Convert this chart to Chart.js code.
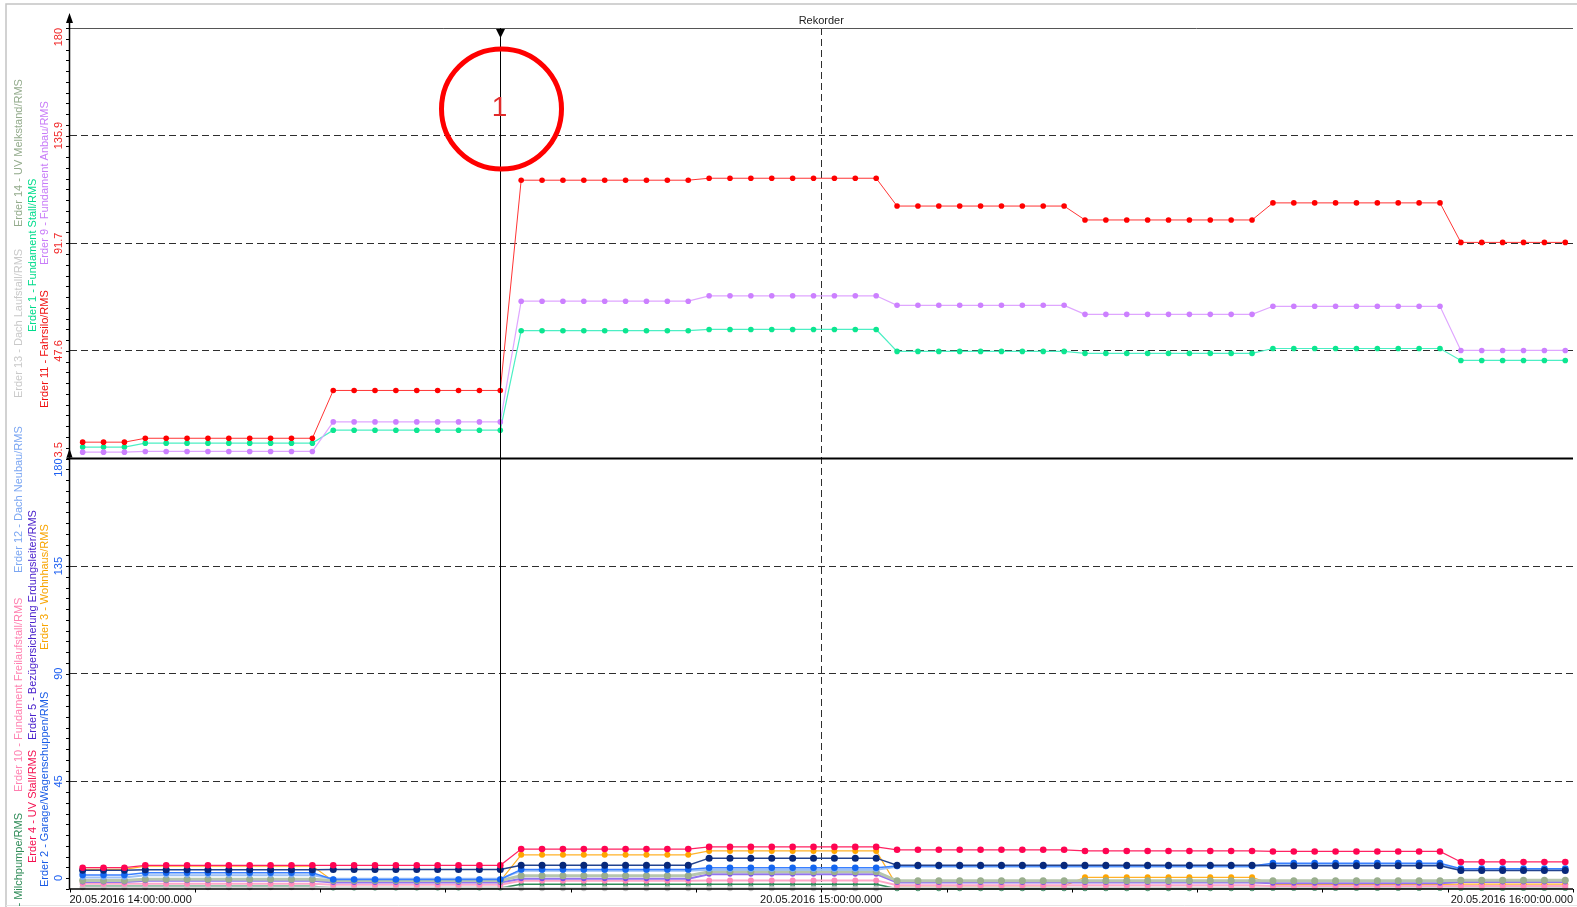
<!DOCTYPE html>
<html>
<head>
<meta charset="utf-8">
<title>Rekorder</title>
<script src="https://cdn.jsdelivr.net/npm/chart.js@4.4.0/dist/chart.umd.min.js"></script>
<style>
  html, body { margin: 0; padding: 0; background: #fff; }
  canvas { display: block; }
</style>
</head>
<body>
<canvas id="rekorder" width="1577" height="907"></canvas>
<script>
// x axis: seconds after 20.05.2016 14:00:00
var xTickValues = [0, 3600, 7200];
var xTickLabels = ['20.05.2016 14:00:00.000', '20.05.2016 15:00:00.000', '20.05.2016 16:00:00.000'];
var topTicks = [3.5, 47.6, 91.7, 135.9, 180];
var botTicks = [0, 45, 90, 135, 180];
var cursorIndex = 20;

// upper panel
var erder11 = [
  10.2, 10.2, 10.2,
  11.8, 11.8, 11.8, 11.8, 11.8, 11.8, 11.8, 11.8, 11.8,
  31.4, 31.4, 31.4, 31.4, 31.4, 31.4, 31.4, 31.4, 31.4,
  117.6, 117.6, 117.6, 117.6, 117.6, 117.6, 117.6, 117.6, 117.6,
  118.4, 118.4, 118.4, 118.4, 118.4, 118.4, 118.4, 118.4, 118.4,
  107.0, 107.0, 107.0, 107.0, 107.0, 107.0, 107.0, 107.0, 107.0,
  101.3, 101.3, 101.3, 101.3, 101.3, 101.3, 101.3, 101.3, 101.3,
  108.3, 108.3, 108.3, 108.3, 108.3, 108.3, 108.3, 108.3, 108.3,
  92.1, 92.1, 92.1, 92.1, 92.1, 92.1
];
var erder9 = [
  6.1, 6.1, 6.1,
  6.4, 6.4, 6.4, 6.4, 6.4, 6.4, 6.4, 6.4, 6.4,
  18.5, 18.5, 18.5, 18.5, 18.5, 18.5, 18.5, 18.5, 18.5,
  68.0, 68.0, 68.0, 68.0, 68.0, 68.0, 68.0, 68.0, 68.0,
  70.2, 70.2, 70.2, 70.2, 70.2, 70.2, 70.2, 70.2, 70.2,
  66.3, 66.3, 66.3, 66.3, 66.3, 66.3, 66.3, 66.3, 66.3,
  62.6, 62.6, 62.6, 62.6, 62.6, 62.6, 62.6, 62.6, 62.6,
  65.9, 65.9, 65.9, 65.9, 65.9, 65.9, 65.9, 65.9, 65.9,
  47.8, 47.8, 47.8, 47.8, 47.8, 47.8
];
var erder1 = [
  8.2, 8.2, 8.2,
  9.8, 9.8, 9.8, 9.8, 9.8, 9.8, 9.8, 9.8, 9.8,
  15.1, 15.1, 15.1, 15.1, 15.1, 15.1, 15.1, 15.1, 15.1,
  55.9, 55.9, 55.9, 55.9, 55.9, 55.9, 55.9, 55.9, 55.9,
  56.4, 56.4, 56.4, 56.4, 56.4, 56.4, 56.4, 56.4, 56.4,
  47.4, 47.4, 47.4, 47.4, 47.4, 47.4, 47.4, 47.4, 47.4,
  46.6, 46.6, 46.6, 46.6, 46.6, 46.6, 46.6, 46.6, 46.6,
  48.6, 48.6, 48.6, 48.6, 48.6, 48.6, 48.6, 48.6, 48.6,
  43.7, 43.7, 43.7, 43.7, 43.7, 43.7
];

// lower panel
var erder4 = [
  8.9, 8.9, 8.9,
  9.9, 9.9, 9.9, 9.9, 9.9, 9.9, 9.9, 9.9, 9.9,
  9.9, 9.9, 9.9, 9.9, 9.9, 9.9, 9.9, 9.9, 9.9,
  16.7, 16.7, 16.7, 16.7, 16.7, 16.7, 16.7, 16.7, 16.7,
  17.6, 17.6, 17.6, 17.6, 17.6, 17.6, 17.6, 17.6, 17.6,
  16.4, 16.4, 16.4, 16.4, 16.4, 16.4, 16.4, 16.4, 16.4,
  15.9, 15.9, 15.9, 15.9, 15.9, 15.9, 15.9, 15.9, 15.9,
  15.7, 15.7, 15.7, 15.7, 15.7, 15.7, 15.7, 15.7, 15.7,
  11.3, 11.3, 11.3, 11.3, 11.3, 11.3
];
var erder3 = [
  8.2, 8.2, 8.2,
  9.6, 9.6, 9.6, 9.6, 9.6, 9.6, 9.6, 9.6, 9.6,
  3.4, 3.4, 3.4, 3.4, 3.4, 3.4, 3.4, 3.4, 3.4,
  14.3, 14.3, 14.3, 14.3, 14.3, 14.3, 14.3, 14.3, 14.3,
  15.9, 15.9, 15.9, 15.9, 15.9, 15.9, 15.9, 15.9, 15.9,
  1.3, 1.3, 1.3, 1.3, 1.3, 1.3, 1.3, 1.3, 1.3,
  4.9, 4.9, 4.9, 4.9, 4.9, 4.9, 4.9, 4.9, 4.9,
  1.9, 1.9, 1.9, 1.9, 1.9, 1.9, 1.9, 1.9, 1.9,
  2.0, 2.0, 2.0, 2.0, 2.0, 2.0
];
var erder5 = [
  7.8, 7.8, 7.8,
  8.1, 8.1, 8.1, 8.1, 8.1, 8.1, 8.1, 8.1, 8.1,
  8.2, 8.2, 8.2, 8.2, 8.2, 8.2, 8.2, 8.2, 8.2,
  9.9, 9.9, 9.9, 9.9, 9.9, 9.9, 9.9, 9.9, 9.9,
  12.9, 12.9, 12.9, 12.9, 12.9, 12.9, 12.9, 12.9, 12.9,
  9.9, 9.9, 9.9, 9.9, 9.9, 9.9, 9.9, 9.9, 9.9,
  9.9, 9.9, 9.9, 9.9, 9.9, 9.9, 9.9, 9.9, 9.9,
  9.7, 9.7, 9.7, 9.7, 9.7, 9.7, 9.7, 9.7, 9.7,
  7.7, 7.7, 7.7, 7.7, 7.7, 7.7
];
var erder2 = [
  5.9, 5.9, 5.9,
  6.8, 6.8, 6.8, 6.8, 6.8, 6.8, 6.8, 6.8, 6.8,
  4.0, 4.0, 4.0, 4.0, 4.0, 4.0, 4.0, 4.0, 4.0,
  8.2, 8.2, 8.2, 8.2, 8.2, 8.2, 8.2, 8.2, 8.2,
  8.9, 8.9, 8.9, 8.9, 8.9, 8.9, 8.9, 8.9, 8.9,
  9.6, 9.6, 9.6, 9.6, 9.6, 9.6, 9.6, 9.6, 9.6,
  9.6, 9.6, 9.6, 9.6, 9.6, 9.6, 9.6, 9.6, 9.6,
  10.8, 10.8, 10.8, 10.8, 10.8, 10.8, 10.8, 10.8, 10.8,
  8.5, 8.5, 8.5, 8.5, 8.5, 8.5
];
var erder12 = [
  4.8, 4.8, 4.8,
  5.7, 5.7, 5.7, 5.7, 5.7, 5.7, 5.7, 5.7, 5.7,
  4.3, 4.3, 4.3, 4.3, 4.3, 4.3, 4.3, 4.3, 4.3,
  7.6, 7.6, 7.6, 7.6, 7.6, 7.6, 7.6, 7.6, 7.6,
  8.0, 8.0, 8.0, 8.0, 8.0, 8.0, 8.0, 8.0, 8.0,
  9.3, 9.3, 9.3, 9.3, 9.3, 9.3, 9.3, 9.3, 9.3,
  9.3, 9.3, 9.3, 9.3, 9.3, 9.3, 9.3, 9.3, 9.3,
  10.3, 10.3, 10.3, 10.3, 10.3, 10.3, 10.3, 10.3, 10.3,
  8.0, 8.0, 8.0, 8.0, 8.0, 8.0
];
var erder14 = [
  3.6, 3.6, 3.6,
  4.1, 4.1, 4.1, 4.1, 4.1, 4.1, 4.1, 4.1, 4.1,
  3.6, 3.6, 3.6, 3.6, 3.6, 3.6, 3.6, 3.6, 3.6,
  5.5, 5.5, 5.5, 5.5, 5.5, 5.5, 5.5, 5.5, 5.5,
  7.2, 7.2, 7.2, 7.2, 7.2, 7.2, 7.2, 7.2, 7.2,
  3.4, 3.4, 3.4, 3.4, 3.4, 3.4, 3.4, 3.4, 3.4,
  3.4, 3.4, 3.4, 3.4, 3.4, 3.4, 3.4, 3.4, 3.4,
  3.4, 3.4, 3.4, 3.4, 3.4, 3.4, 3.4, 3.4, 3.4,
  3.7, 3.7, 3.7, 3.7, 3.7, 3.7
];
var erder8 = [
  2.9, 2.9, 2.9,
  3.5, 3.5, 3.5, 3.5, 3.5, 3.5, 3.5, 3.5, 3.5,
  2.7, 2.7, 2.7, 2.7, 2.7, 2.7, 2.7, 2.7, 2.7,
  4.3, 4.3, 4.3, 4.3, 4.3, 4.3, 4.3, 4.3, 4.3,
  6.2, 6.2, 6.2, 6.2, 6.2, 6.2, 6.2, 6.2, 6.2,
  2.7, 2.7, 2.7, 2.7, 2.7, 2.7, 2.7, 2.7, 2.7,
  2.7, 2.7, 2.7, 2.7, 2.7, 2.7, 2.7, 2.7, 2.7,
  2.4, 2.4, 2.4, 2.4, 2.4, 2.4, 2.4, 2.4, 2.4,
  2.9, 2.9, 2.9, 2.9, 2.9, 2.9
];
var erder10 = [
  2.2, 2.2, 2.2,
  2.2, 2.2, 2.2, 2.2, 2.2, 2.2, 2.2, 2.2, 2.2,
  1.8, 1.8, 1.8, 1.8, 1.8, 1.8, 1.8, 1.8, 1.8,
  3.4, 3.4, 3.4, 3.4, 3.4, 3.4, 3.4, 3.4, 3.4,
  3.6, 3.6, 3.6, 3.6, 3.6, 3.6, 3.6, 3.6, 3.6,
  1.6, 1.6, 1.6, 1.6, 1.6, 1.6, 1.6, 1.6, 1.6,
  1.6, 1.6, 1.6, 1.6, 1.6, 1.6, 1.6, 1.6, 1.6,
  1.3, 1.3, 1.3, 1.3, 1.3, 1.3, 1.3, 1.3, 1.3,
  1.3, 1.3, 1.3, 1.3, 1.3, 1.3
];
var erder6 = [
  1.1, 1.1, 1.1,
  1.1, 1.1, 1.1, 1.1, 1.1, 1.1, 1.1, 1.1, 1.1,
  0.4, 0.4, 0.4, 0.4, 0.4, 0.4, 0.4, 0.4, 0.4,
  2.0, 2.0, 2.0, 2.0, 2.0, 2.0, 2.0, 2.0, 2.0,
  2.0, 2.0, 2.0, 2.0, 2.0, 2.0, 2.0, 2.0, 2.0,
  0.1, 0.1, 0.1, 0.1, 0.1, 0.1, 0.1, 0.1, 0.1,
  0.1, 0.1, 0.1, 0.1, 0.1, 0.1, 0.1, 0.1, 0.1,
  0.2, 0.2, 0.2, 0.2, 0.2, 0.2, 0.2, 0.2, 0.2,
  0.2, 0.2, 0.2, 0.2, 0.2, 0.2
];
var erder13 = [
  0.7, 0.7, 0.7,
  0.7, 0.7, 0.7, 0.7, 0.7, 0.7, 0.7, 0.7, 0.7,
  0.7, 0.7, 0.7, 0.7, 0.7, 0.7, 0.7, 0.7, 0.7,
  0.3, 0.3, 0.3, 0.3, 0.3, 0.3, 0.3, 0.3, 0.3,
  0.3, 0.3, 0.3, 0.3, 0.3, 0.3, 0.3, 0.3, 0.3,
  0.6, 0.6, 0.6, 0.6, 0.6, 0.6, 0.6, 0.6, 0.6,
  0.6, 0.6, 0.6, 0.6, 0.6, 0.6, 0.6, 0.6, 0.6,
  0.6, 0.6, 0.6, 0.6, 0.6, 0.6, 0.6, 0.6, 0.6,
  0.6, 0.6, 0.6, 0.6, 0.6, 0.6
];

// recorder logs one sample every 100 s, first one at 14:01:03
var times = [];
for (var i = 0; i < erder11.length; i++) times.push(63 + 100 * i);

// channel names shown rotated at the left, per panel and column
var topLabels = [
  { text: 'Erder 13 - Dach Laufstall/RMS', color: '#c9c9c9', col: 0, y: 398 },
  { text: 'Erder 14 - UV Melkstand/RMS', color: '#93ab8c', col: 0, y: 227 },
  { text: 'Erder 1 - Fundament Stall/RMS', color: '#00dc8c', col: 1, y: 332 },
  { text: 'Erder 11 - Fahrsilo/RMS', color: '#f01010', col: 2, y: 408 },
  { text: 'Erder 9 - Fundament Anbau/RMS', color: '#c87cf8', col: 2, y: 265 }
];
var botLabels = [
  { text: 'Erder 10 - Fundament Freilaufstall/RMS', color: '#ff80b0', col: 0, y: 792 },
  { text: 'Erder 12 - Dach Neubau/RMS', color: '#7ba6f2', col: 0, y: 573 },
  { text: 'Erder 4 - UV Stall/RMS', color: '#f41050', col: 1, y: 863 },
  { text: 'Erder 5 - Bezügersicherung Erdungsleiter/RMS', color: '#4a22cc', col: 1, y: 740 },
  { text: 'Erder 2 - Garage/Wagenschuppen/RMS', color: '#1a5ce6', col: 2, y: 887 },
  { text: 'Erder 3 - Wohnhaus/RMS', color: '#f8a400', col: 2, y: 650 }
];
var colX = [19, 32.5, 45];

function series(label, values, axis, line, dot, width, radius) {
  return {
    label: label,
    data: values.map(function (v, i) { return { x: times[i], y: v }; }),
    yAxisID: axis,
    borderColor: line,
    backgroundColor: dot,
    pointBackgroundColor: dot,
    pointBorderColor: dot,
    pointBorderWidth: 0,
    borderWidth: width,
    pointRadius: radius,
    tension: 0,
    clip: false
  };
}

// first dataset is drawn on top
var datasets = [
  series('Erder 11 - Fahrsilo/RMS', erder11, 'yTop', '#ff3434', '#ff0000', 1, 2.8),
  series('Erder 9 - Fundament Anbau/RMS', erder9, 'yTop', '#dfa6ff', '#cc80ff', 1.2, 2.8),
  series('Erder 1 - Fundament Stall/RMS', erder1, 'yTop', '#4cefc4', '#0ce690', 1.2, 2.8),
  series('Erder 4 - UV Stall/RMS', erder4, 'yBot', '#ff2262', '#ff0452', 1.2, 3.3),
  series('Erder 5 - Bezügersicherung Erdungsleiter/RMS', erder5, 'yBot', '#22438f', '#08287a', 1.5, 3.5),
  series('Erder 2 - Garage/Wagenschuppen/RMS', erder2, 'yBot', '#3a80ff', '#1466f0', 1.5, 3.3),
  series('Erder 12 - Dach Neubau/RMS', erder12, 'yBot', '#9cc0f5', '#80aef0', 2, 2.5),
  series('Erder 14 - UV Melkstand/RMS', erder14, 'yBot', '#b6c6ae', '#9aae8e', 3, 3.5),
  series('Erder 8/RMS', erder8, 'yBot', '#9274f0', '#7a4ee8', 2, 2.5),
  series('Erder 10 - Fundament Freilaufstall/RMS', erder10, 'yBot', '#ffa8c8', '#ff8ab8', 2, 3),
  series('Erder 13 - Dach Laufstall/RMS', erder13, 'yBot', '#d4d4d4', '#c4c4c4', 2, 3),
  series('Erder 3 - Wohnhaus/RMS', erder3, 'yBot', '#ffb228', '#ffa500', 1.2, 3),
  series('Erder 6 - Milchpumpe/RMS', erder6, 'yBot', '#2e8b57', '#2a8a5a', 1.5, 2.5)
];

function fixedTicks(values) {
  return function (scale) {
    scale.ticks = values.map(function (v) { return { value: v }; });
  };
}
function innerGrid(c) {
  var n = c.scale.ticks.length;
  return (c.index === 0 || c.index === n - 1) ? 'rgba(0,0,0,0)' : '#2e2e2e';
}

function vText(ctx, txt, x, y, color, align) {
  ctx.save();
  ctx.translate(x, y);
  ctx.rotate(-Math.PI / 2);
  ctx.textAlign = align;
  ctx.textBaseline = 'middle';
  ctx.fillStyle = color;
  ctx.fillText(txt, 0, 0);
  ctx.restore();
}

var decor = {
  id: 'decor',
  afterDraw: function (chart) {
    var ctx = chart.ctx;
    var area = chart.chartArea;
    var xs = chart.scales.x, yt = chart.scales.yTop, yb = chart.scales.yBot;
    var ax = area.left;

    ctx.save();
    // outer frame
    ctx.strokeStyle = '#c4c4c4';
    ctx.lineWidth = 1.5;
    ctx.beginPath();
    ctx.moveTo(6, 907); ctx.lineTo(6, 4); ctx.lineTo(1577, 4);
    ctx.stroke();
    ctx.strokeStyle = '#e6e6e6';
    ctx.lineWidth = 1;
    ctx.beginPath(); ctx.moveTo(6, 905.5); ctx.lineTo(1577, 905.5); ctx.stroke();

    // title
    ctx.font = '11px "Liberation Sans", Arial, sans-serif';
    ctx.fillStyle = '#222';
    ctx.textAlign = 'center';
    ctx.textBaseline = 'middle';
    ctx.fillText('Rekorder', xs.getPixelForValue(3600), 21);

    // panel borders
    ctx.strokeStyle = '#555';
    ctx.lineWidth = 1;
    ctx.beginPath(); ctx.moveTo(ax - 3, yt.top + 0.5); ctx.lineTo(area.right, yt.top + 0.5); ctx.stroke();
    ctx.strokeStyle = '#000';
    ctx.lineWidth = 2;
    ctx.beginPath(); ctx.moveTo(ax - 3, yt.bottom); ctx.lineTo(area.right, yt.bottom); ctx.stroke();
    ctx.lineWidth = 1.5;
    ctx.beginPath(); ctx.moveTo(ax, yb.bottom); ctx.lineTo(area.right, yb.bottom); ctx.stroke();
    ctx.beginPath(); ctx.moveTo(ax, 18); ctx.lineTo(ax, yb.bottom); ctx.stroke();

    // arrows on the value axis
    ctx.fillStyle = '#000';
    ctx.beginPath(); ctx.moveTo(ax, 13); ctx.lineTo(ax - 3.5, 23); ctx.lineTo(ax + 3.5, 23); ctx.closePath(); ctx.fill();
    ctx.beginPath(); ctx.moveTo(ax, yt.bottom - 10); ctx.lineTo(ax - 3, yt.bottom - 1); ctx.lineTo(ax + 3, yt.bottom - 1); ctx.closePath(); ctx.fill();

    // minor ticks
    ctx.lineWidth = 1;
    ctx.strokeStyle = '#000';
    [[yt, topTicks], [yb, botTicks]].forEach(function (p) {
      var sc = p[0], tv = p[1];
      var step = (sc.bottom - sc.top) / ((tv.length - 1) * 10);
      for (var k = 0; k <= (tv.length - 1) * 10; k++) {
        var y = Math.round(sc.top + k * step) + 0.5;
        ctx.beginPath(); ctx.moveTo(ax - 3.5, y); ctx.lineTo(ax, y); ctx.stroke();
      }
    });
    for (var s = 0; s <= 7200; s += 600) {
      var tx = Math.round(xs.getPixelForValue(s)) + 0.5;
      ctx.beginPath(); ctx.moveTo(tx, yb.bottom); ctx.lineTo(tx, yb.bottom + 3.5); ctx.stroke();
    }

    // value axis labels
    ctx.font = '11px "Liberation Sans", Arial, sans-serif';
    function axisLabels(sc, tv, color, lowOffset) {
      tv.forEach(function (v, k) {
        var y = sc.getPixelForValue(v);
        var align = 'center';
        if (k === 0) { align = 'left'; y -= lowOffset; }
        if (k === tv.length - 1) { align = 'right'; }
        vText(ctx, String(v), 59, y, color, align);
      });
    }
    axisLabels(yt, topTicks, '#f02828', 1);
    axisLabels(yb, botTicks, '#1e60f0', 8);

    // time labels
    ctx.fillStyle = '#111';
    ctx.textBaseline = 'middle';
    xTickValues.forEach(function (v, k) {
      ctx.textAlign = k === 0 ? 'left' : (k === xTickValues.length - 1 ? 'right' : 'center');
      ctx.fillText(xTickLabels[k], xs.getPixelForValue(v), 900);
    });

    // channel names
    topLabels.concat(botLabels).forEach(function (l) {
      vText(ctx, l.text, colX[l.col], l.y, l.color, 'left');
    });
    vText(ctx, 'Erder 6 - Milchpumpe/RMS', colX[0], 813, '#2e8b57', 'right');

    // cursor 1
    var cx = Math.round(xs.getPixelForValue(times[cursorIndex])) + 0.5;
    ctx.strokeStyle = '#000';
    ctx.lineWidth = 1;
    ctx.beginPath(); ctx.moveTo(cx, yt.top); ctx.lineTo(cx, yb.bottom); ctx.stroke();
    ctx.fillStyle = '#000';
    ctx.beginPath(); ctx.moveTo(cx - 4.5, yt.top + 1); ctx.lineTo(cx + 4.5, yt.top + 1); ctx.lineTo(cx, yt.top + 10); ctx.closePath(); ctx.fill();
    ctx.strokeStyle = '#ff0000';
    ctx.lineWidth = 5;
    ctx.beginPath(); ctx.arc(cx + 1, 109, 60, 0, Math.PI * 2); ctx.stroke();
    ctx.fillStyle = '#e02a2a';
    ctx.font = '28px "Liberation Sans", Arial, sans-serif';
    ctx.textAlign = 'center';
    ctx.textBaseline = 'middle';
    ctx.fillText('1', cx - 1, 108);
    ctx.restore();
  }
};

new Chart(document.getElementById('rekorder'), {
  type: 'line',
  data: { datasets: datasets },
  options: {
    responsive: false,
    animation: false,
    devicePixelRatio: 1,
    layout: { padding: { left: 0, right: 4, top: 28, bottom: 0 } },
    plugins: { legend: { display: false }, tooltip: { enabled: false }, title: { display: false } },
    scales: {
      x: {
        type: 'linear', min: 0, max: 7200,
        afterBuildTicks: fixedTicks(xTickValues),
        afterFit: function (s) { s.height = 18; },
        ticks: { display: false },
        grid: { color: innerGrid, lineWidth: 1, drawTicks: false },
        border: { display: false, dash: [7, 4] }
      },
      yTop: {
        type: 'linear', position: 'left', stack: 'panels', stackWeight: 1, weight: 2,
        min: 3.5, max: 180,
        afterBuildTicks: fixedTicks(topTicks),
        afterFit: function (s) { s.width = 69.5; },
        ticks: { display: false },
        grid: { color: innerGrid, lineWidth: 1, drawTicks: false },
        border: { display: false, dash: [7, 4] }
      },
      yBot: {
        type: 'linear', position: 'left', stack: 'panels', stackWeight: 1, weight: 1,
        min: 0, max: 180,
        afterBuildTicks: fixedTicks(botTicks),
        afterFit: function (s) { s.width = 69.5; },
        ticks: { display: false },
        grid: { color: innerGrid, lineWidth: 1, drawTicks: false },
        border: { display: false, dash: [7, 4] }
      }
    }
  },
  plugins: [decor]
});
</script>
</body>
</html>
